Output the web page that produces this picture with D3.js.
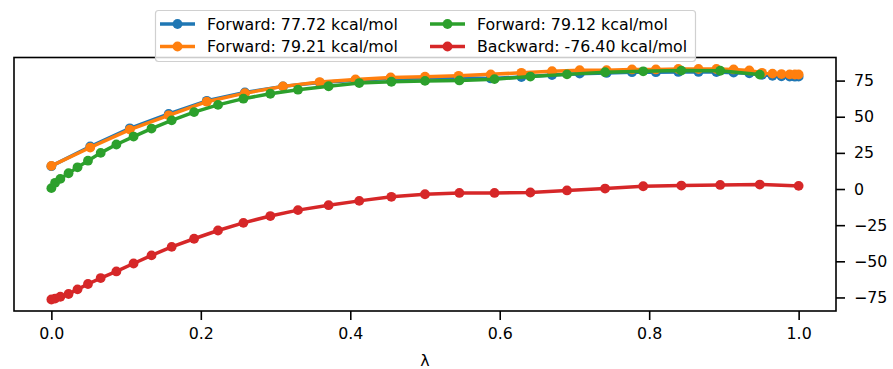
<!DOCTYPE html>
<html>
<head>
<meta charset="utf-8">
<script src="https://cdn.jsdelivr.net/npm/d3@7"></script>
<style>
  html, body { margin: 0; padding: 0; background: #fff; }
  svg { display: block; font-family: "DejaVu Sans", sans-serif; }
</style>
</head>
<body>
<svg id="chart" width="893" height="369"></svg>
<script>
// λ schedules
const lambdaFwdA = [0, 0.052, 0.105, 0.157, 0.208, 0.259, 0.310, 0.359, 0.407, 0.454,
  0.500, 0.545, 0.588, 0.629, 0.670, 0.707, 0.743, 0.777, 0.809, 0.839,
  0.866, 0.890, 0.913, 0.934, 0.951, 0.965, 0.977, 0.988, 0.995, 1.0];
const lambdaFwdB = [0, 0.005, 0.012, 0.023, 0.035, 0.049, 0.066, 0.087, 0.110, 0.134,
  0.161, 0.191, 0.223, 0.257, 0.293, 0.330, 0.371, 0.412, 0.455, 0.500,
  0.546, 0.593, 0.641, 0.690, 0.741, 0.792, 0.843, 0.895, 0.948];
const lambdaBwd = [0, 0.005, 0.012, 0.023, 0.035, 0.049, 0.066, 0.087, 0.110, 0.134,
  0.161, 0.191, 0.223, 0.257, 0.293, 0.330, 0.371, 0.412, 0.455, 0.500,
  0.546, 0.593, 0.641, 0.690, 0.741, 0.792, 0.843, 0.895, 0.948, 1.0];

// cumulative free energy (kcal/mol)
const forwardBlue = [15.8, 29.4, 42.0, 52.0, 61.0, 66.8, 71.0, 73.6, 75.2, 76.5,
  76.8, 77.0, 76.5, 77.4, 78.8, 79.8, 80.3, 80.8, 80.8, 81.0,
  81.0, 80.9, 80.5, 80.0, 79.0, 78.3, 78.0, 77.8, 77.7, 77.72];
const forwardOrange = [16.0, 28.7, 41.1, 51.0, 60.4, 66.3, 71.0, 74.0, 75.8, 77.2,
  77.7, 78.3, 79.3, 80.4, 81.5, 82.2, 82.2, 82.7, 82.7, 83.0,
  83.0, 83.0, 82.7, 82.0, 80.4, 79.8, 79.5, 79.3, 79.2, 79.21];
const forwardGreen = [0.6, 4.3, 7.0, 10.9, 15.0, 19.6, 25.0, 30.8, 36.3, 41.8,
  47.5, 53.2, 58.2, 62.5, 65.9, 68.7, 71.1, 73.3, 74.2, 74.8,
  75.1, 76.0, 77.8, 79.3, 80.8, 81.4, 81.9, 81.8, 79.12];
const backwardRed = [-76.40, -75.8, -74.5, -72.6, -69.4, -65.7, -61.6, -57.0, -51.5, -45.9,
  -40.0, -34.4, -28.7, -23.4, -18.7, -14.6, -11.2, -8.2, -5.4, -3.6,
  -2.7, -2.7, -2.4, -1.0, 0.3, 1.9, 2.4, 2.8, 3.1, 2.2];

const seriesLabels = ["Forward: 77.72 kcal/mol", "Forward: 79.21 kcal/mol",
  "Forward: 79.12 kcal/mol", "Backward: -76.40 kcal/mol"];
const seriesColors = ["#1f77b4", "#ff7f0e", "#2ca02c", "#d62728"];

const xTicks = [0, 0.2, 0.4, 0.6, 0.8, 1.0];
const yTicks = [-75, -50, -25, 0, 25, 50, 75];
const xLabel = "λ";

const series = [
  { x: lambdaFwdA, y: forwardBlue },
  { x: lambdaFwdA, y: forwardOrange },
  { x: lambdaFwdB, y: forwardGreen },
  { x: lambdaBwd, y: backwardRed }
].map((s, i) => ({
  label: seriesLabels[i],
  color: seriesColors[i],
  points: s.x.map((lx, j) => [lx, s.y[j]])
}));

const plot = { left: 14, right: 836, top: 57.5, bottom: 311 };

const allX = series.flatMap(s => s.points.map(p => p[0]));
const allY = series.flatMap(s => s.points.map(p => p[1]));
const [x0, x1] = d3.extent(allX);
const [y0, y1] = d3.extent(allY);
const xPad = (x1 - x0) * 0.05, yPad = (y1 - y0) * 0.05;

const x = d3.scaleLinear().domain([x0 - xPad, x1 + xPad]).range([plot.left, plot.right]);
const y = d3.scaleLinear().domain([y0 - yPad, y1 + yPad]).range([plot.bottom, plot.top]);

const svg = d3.select("#chart");
const fontSize = 15.8;
const markerR = 4.9;

// data lines with markers
const line = d3.line().x(d => x(d[0])).y(d => y(d[1]));
series.forEach(s => {
  const g = svg.append("g");
  g.append("path")
    .attr("d", line(s.points))
    .attr("fill", "none")
    .attr("stroke", s.color)
    .attr("stroke-width", 3.5)
    .attr("stroke-linejoin", "round")
    .attr("stroke-linecap", "square");
  g.selectAll("circle").data(s.points).join("circle")
    .attr("cx", d => x(d[0]))
    .attr("cy", d => y(d[1]))
    .attr("r", markerR)
    .attr("fill", s.color);
});

// spines
const spines = svg.append("g").attr("stroke", "#000").attr("stroke-width", 1.6).attr("fill", "none");
spines.append("rect")
  .attr("x", plot.left).attr("y", plot.top)
  .attr("width", plot.right - plot.left).attr("height", plot.bottom - plot.top);

// x axis
const xAxis = d3.axisBottom(x).tickValues(xTicks).tickFormat(d3.format(".1f"))
  .tickSize(9).tickPadding(8);
const gx = svg.append("g").attr("transform", `translate(0,${plot.bottom})`).call(xAxis);
gx.select(".domain").remove();
gx.selectAll(".tick line").attr("stroke", "#000").attr("stroke-width", 1.6);
gx.selectAll(".tick text").attr("fill", "#000")
  .style("font-family", "DejaVu Sans").style("font-size", fontSize + "px");

// y axis on the right
const yAxis = d3.axisRight(y).tickValues(yTicks)
  .tickFormat(d => d < 0 ? "\u2212" + Math.abs(d) : String(d))
  .tickSize(9).tickPadding(9);
const gy = svg.append("g").attr("transform", `translate(${plot.right},0)`).call(yAxis);
gy.select(".domain").remove();
gy.selectAll(".tick line").attr("stroke", "#000").attr("stroke-width", 1.6);
gy.selectAll(".tick text").attr("fill", "#000")
  .style("font-family", "DejaVu Sans").style("font-size", fontSize + "px");

// axis label
svg.append("text")
  .attr("x", (plot.left + plot.right) / 2)
  .attr("y", 366)
  .attr("text-anchor", "middle")
  .style("font-size", fontSize + "px")
  .text(xLabel);

// legend
const legend = svg.append("g");
legend.append("rect")
  .attr("x", 155.5).attr("y", 10.5)
  .attr("width", 540).attr("height", 51)
  .attr("rx", 3).attr("ry", 3)
  .attr("fill", "rgba(255,255,255,0.8)")
  .attr("stroke", "#d0d0d0")
  .attr("stroke-width", 1.2);

const colX = [160, 430];
const rowY = [24, 46.5];
series.forEach((s, i) => {
  const col = i < 2 ? 0 : 1;
  const row = i % 2;
  const lx = colX[col], ly = rowY[row];
  legend.append("line")
    .attr("x1", lx).attr("x2", lx + 35)
    .attr("y1", ly).attr("y2", ly)
    .attr("stroke", s.color).attr("stroke-width", 3.5);
  legend.append("circle")
    .attr("cx", lx + 17.5).attr("cy", ly).attr("r", markerR)
    .attr("fill", s.color);
  legend.append("text")
    .attr("x", lx + 47).attr("y", ly)
    .attr("dy", "0.36em")
    .style("font-size", fontSize + "px")
    .attr("fill", "#000")
    .text(s.label);
});
</script>
</body>
</html>
